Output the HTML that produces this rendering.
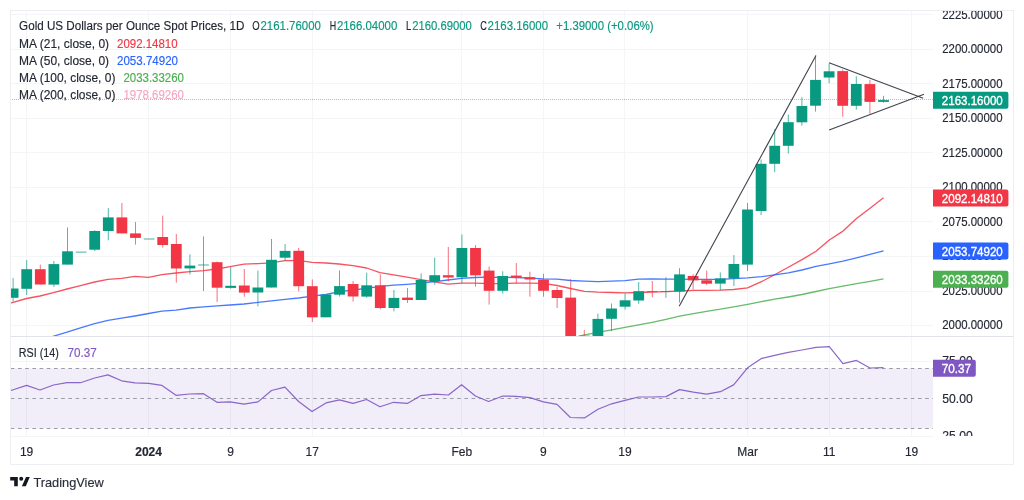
<!DOCTYPE html><html><head><meta charset="utf-8"><title>Gold chart</title><style>html,body{margin:0;padding:0;background:#fff;width:1024px;height:500px;overflow:hidden}svg{display:block}text{font-family:'Liberation Sans', Arial, sans-serif}</style></head><body>
<svg width="1024" height="500" viewBox="0 0 1024 500" style="will-change:transform">
<rect width="1024" height="500" fill="#fff"/>
<defs><clipPath id="mp"><rect x="10" y="10" width="923" height="326"/></clipPath><clipPath id="rp"><rect x="10" y="337" width="923" height="99"/></clipPath><clipPath id="pax"><rect x="933" y="11" width="80" height="325"/></clipPath><clipPath id="rax"><rect x="933" y="337" width="80" height="99"/></clipPath></defs>
<path d="M10 325.5H933 M10 291.5H933 M10 256.5H933 M10 221.5H933 M10 187.5H933 M10 152.5H933 M10 118.5H933 M10 83.5H933 M10 49.5H933 M10 14.5H933 M26.5 10V436 M148.5 10V436 M230.5 10V436 M312.5 10V436 M461.5 10V436 M543.5 10V436 M624.5 10V436 M747.5 10V436 M829.5 10V436 M911.5 10V436 M10 361.5H933 M10 436.5H933" stroke="#f4f5f6" stroke-width="1" fill="none"/>
<rect x="10" y="368.5" width="923" height="60" fill="#7e57c2" fill-opacity="0.1"/>
<path d="M10 368.5H933" stroke="#9a9da5" stroke-width="1" stroke-dasharray="3.6 3.6" stroke-dashoffset="-0.8" fill="none"/>
<path d="M10 398.5H933" stroke="#9a9da5" stroke-width="1" stroke-dasharray="3.6 3.6" stroke-dashoffset="-0.8" fill="none"/>
<path d="M10 428.5H933" stroke="#9a9da5" stroke-width="1" stroke-dasharray="3.6 3.6" stroke-dashoffset="-0.8" fill="none"/>
<g clip-path="url(#mp)">
<polyline points="10.0,303.2 13.1,302.3 26.6,298.5 40.0,296.0 53.5,292.7 67.0,289.0 80.5,285.7 94.6,282.0 108.0,279.4 121.6,278.3 135.0,276.3 148.6,277.3 162.0,274.7 176.0,273.0 190.0,271.6 203.6,270.7 217.0,269.0 230.0,266.7 244.0,264.2 258.0,263.6 271.0,262.8 285.0,260.6 298.0,260.3 312.0,262.3 326.0,263.0 339.0,264.0 353.0,265.6 366.6,268.0 380.0,272.7 393.6,274.8 407.0,277.2 421.0,279.6 434.6,281.9 448.0,284.2 461.6,283.1 475.0,283.1 489.0,283.7 503.0,283.7 516.0,283.1 530.0,283.1 543.0,283.4 557.0,285.5 570.5,288.5 584.4,291.4 598.0,292.2 611.6,292.5 625.0,292.8 638.6,292.5 652.0,292.0 666.0,291.7 679.5,291.0 693.4,290.4 706.6,290.3 720.4,290.2 733.6,289.5 747.6,287.8 761.4,281.7 774.6,274.7 788.3,267.2 802.0,259.6 816.0,251.3 829.3,240.0 843.0,231.1 856.5,218.6 870.0,208.3 883.5,197.8" fill="none" stroke="#f23645" stroke-width="1.3" stroke-linejoin="round" opacity="0.85"/>
<polyline points="52.2,336.6 67.0,332.2 80.5,327.8 94.6,323.7 108.0,320.3 121.6,318.2 135.0,316.0 148.6,313.5 162.0,311.2 176.0,310.2 190.0,308.0 203.6,306.9 217.0,305.8 230.0,305.0 244.0,304.0 258.0,302.3 271.5,300.8 285.0,299.3 298.6,298.0 312.0,296.2 326.0,294.5 339.5,291.6 353.0,290.0 366.6,288.3 380.0,286.4 393.6,285.2 407.0,284.3 421.0,283.1 434.6,281.6 448.0,280.0 461.6,278.4 475.0,277.5 489.0,277.2 502.8,277.3 516.0,277.5 530.0,278.1 543.0,278.8 557.0,279.2 570.4,280.5 584.4,281.2 598.0,281.6 611.6,281.2 625.0,280.6 638.6,279.2 652.0,279.0 666.0,279.1 679.5,279.2 693.4,279.3 706.6,279.3 720.4,279.4 733.6,278.6 747.6,277.8 761.4,276.7 774.6,274.8 788.3,272.9 802.0,270.0 816.0,266.3 829.3,263.8 843.0,261.1 856.5,257.8 870.0,254.4 883.5,250.8" fill="none" stroke="#2962ff" stroke-width="1.3" stroke-linejoin="round" opacity="0.85"/>
<polyline points="576.4,337.0 584.4,334.8 598.0,332.4 611.6,329.8 625.0,327.3 638.6,324.8 652.0,322.4 666.0,319.4 679.5,316.2 693.4,313.6 706.6,311.3 720.4,309.2 733.6,306.8 747.6,304.3 761.4,301.6 774.6,299.2 788.3,297.0 802.0,294.5 816.0,291.5 829.3,288.7 843.0,286.2 856.5,283.7 870.0,281.3 883.5,278.9" fill="none" stroke="#4caf50" stroke-width="1.3" stroke-linejoin="round" opacity="0.85"/>
<rect x="12.60" y="278.1" width="1" height="23.5" fill="#089981" opacity="0.7"/>
<rect x="7.70" y="288.5" width="10.8" height="9.3" fill="#089981"/>
<rect x="26.20" y="260.0" width="1" height="35.0" fill="#089981" opacity="0.7"/>
<rect x="21.30" y="269.2" width="10.8" height="19.6" fill="#089981"/>
<rect x="39.80" y="264.6" width="1" height="19.9" fill="#f23645" opacity="0.7"/>
<rect x="34.90" y="269.2" width="10.8" height="15.3" fill="#f23645"/>
<rect x="53.40" y="261.0" width="1" height="26.0" fill="#089981" opacity="0.7"/>
<rect x="48.50" y="264.1" width="10.8" height="20.5" fill="#089981"/>
<rect x="67.00" y="227.5" width="1" height="37.1" fill="#089981" opacity="0.7"/>
<rect x="62.10" y="251.3" width="10.8" height="13.3" fill="#089981"/>
<rect x="75.70" y="251.6" width="10.8" height="1" fill="#089981" opacity="0.75"/>
<rect x="94.20" y="230.2" width="1" height="20.8" fill="#089981" opacity="0.7"/>
<rect x="89.30" y="231.0" width="10.8" height="18.7" fill="#089981"/>
<rect x="107.80" y="208.1" width="1" height="32.2" fill="#089981" opacity="0.7"/>
<rect x="102.90" y="217.4" width="10.8" height="13.6" fill="#089981"/>
<rect x="121.40" y="203.0" width="1" height="30.4" fill="#f23645" opacity="0.7"/>
<rect x="116.50" y="217.4" width="10.8" height="16.0" fill="#f23645"/>
<rect x="135.00" y="221.9" width="1" height="22.7" fill="#f23645" opacity="0.7"/>
<rect x="130.10" y="233.4" width="10.8" height="4.5" fill="#f23645"/>
<rect x="143.70" y="238.5" width="10.8" height="1" fill="#089981" opacity="0.75"/>
<rect x="162.20" y="215.6" width="1" height="32.0" fill="#f23645" opacity="0.7"/>
<rect x="157.30" y="237.0" width="10.8" height="8.0" fill="#f23645"/>
<rect x="175.80" y="234.0" width="1" height="48.7" fill="#f23645" opacity="0.7"/>
<rect x="170.90" y="244.0" width="10.8" height="24.5" fill="#f23645"/>
<rect x="189.40" y="254.4" width="1" height="20.0" fill="#089981" opacity="0.7"/>
<rect x="184.50" y="265.6" width="10.8" height="2.8" fill="#089981"/>
<rect x="203.00" y="236.4" width="1" height="54.6" fill="#089981" opacity="0.7"/>
<rect x="198.10" y="264.5" width="10.8" height="1" fill="#089981" opacity="0.75"/>
<rect x="216.60" y="261.5" width="1" height="40.4" fill="#f23645" opacity="0.7"/>
<rect x="211.70" y="262.2" width="10.8" height="25.5" fill="#f23645"/>
<rect x="230.20" y="267.1" width="1" height="21.6" fill="#089981" opacity="0.7"/>
<rect x="225.30" y="285.8" width="10.8" height="2.1" fill="#089981"/>
<rect x="243.80" y="269.0" width="1" height="27.7" fill="#f23645" opacity="0.7"/>
<rect x="238.90" y="285.5" width="10.8" height="7.1" fill="#f23645"/>
<rect x="257.40" y="270.6" width="1" height="35.7" fill="#089981" opacity="0.7"/>
<rect x="252.50" y="287.5" width="10.8" height="5.0" fill="#089981"/>
<rect x="271.00" y="239.0" width="1" height="48.5" fill="#089981" opacity="0.7"/>
<rect x="266.10" y="259.8" width="10.8" height="27.7" fill="#089981"/>
<rect x="284.60" y="244.0" width="1" height="17.0" fill="#089981" opacity="0.7"/>
<rect x="279.70" y="250.9" width="10.8" height="6.8" fill="#089981"/>
<rect x="298.20" y="248.0" width="1" height="43.4" fill="#f23645" opacity="0.7"/>
<rect x="293.30" y="250.8" width="10.8" height="35.4" fill="#f23645"/>
<rect x="311.80" y="279.4" width="1" height="42.6" fill="#f23645" opacity="0.7"/>
<rect x="306.90" y="286.2" width="10.8" height="31.1" fill="#f23645"/>
<rect x="325.40" y="294.5" width="1" height="22.8" fill="#089981" opacity="0.7"/>
<rect x="320.50" y="294.5" width="10.8" height="22.8" fill="#089981"/>
<rect x="339.00" y="270.5" width="1" height="26.0" fill="#089981" opacity="0.7"/>
<rect x="334.10" y="286.1" width="10.8" height="8.6" fill="#089981"/>
<rect x="352.60" y="281.0" width="1" height="20.6" fill="#f23645" opacity="0.7"/>
<rect x="347.70" y="284.0" width="10.8" height="12.5" fill="#f23645"/>
<rect x="366.20" y="272.6" width="1" height="25.2" fill="#089981" opacity="0.7"/>
<rect x="361.30" y="285.3" width="10.8" height="11.3" fill="#089981"/>
<rect x="379.80" y="274.3" width="1" height="35.0" fill="#f23645" opacity="0.7"/>
<rect x="374.90" y="285.3" width="10.8" height="22.7" fill="#f23645"/>
<rect x="393.40" y="290.0" width="1" height="21.3" fill="#089981" opacity="0.7"/>
<rect x="388.50" y="297.9" width="10.8" height="10.1" fill="#089981"/>
<rect x="407.00" y="288.0" width="1" height="15.0" fill="#f23645" opacity="0.7"/>
<rect x="402.10" y="297.6" width="10.8" height="2.4" fill="#f23645"/>
<rect x="420.60" y="273.3" width="1" height="26.7" fill="#089981" opacity="0.7"/>
<rect x="415.70" y="280.0" width="10.8" height="20.0" fill="#089981"/>
<rect x="434.20" y="257.6" width="1" height="27.1" fill="#089981" opacity="0.7"/>
<rect x="429.30" y="275.2" width="10.8" height="5.9" fill="#089981"/>
<rect x="447.80" y="247.0" width="1" height="34.6" fill="#f23645" opacity="0.7"/>
<rect x="442.90" y="275.2" width="10.8" height="2.3" fill="#f23645"/>
<rect x="461.40" y="234.4" width="1" height="48.7" fill="#089981" opacity="0.7"/>
<rect x="456.50" y="248.0" width="10.8" height="29.3" fill="#089981"/>
<rect x="475.00" y="245.0" width="1" height="41.6" fill="#f23645" opacity="0.7"/>
<rect x="470.10" y="248.0" width="10.8" height="27.3" fill="#f23645"/>
<rect x="488.60" y="266.6" width="1" height="38.0" fill="#f23645" opacity="0.7"/>
<rect x="483.70" y="270.6" width="10.8" height="20.2" fill="#f23645"/>
<rect x="502.20" y="271.3" width="1" height="22.3" fill="#089981" opacity="0.7"/>
<rect x="497.30" y="276.0" width="10.8" height="14.8" fill="#089981"/>
<rect x="515.80" y="263.1" width="1" height="20.0" fill="#f23645" opacity="0.7"/>
<rect x="510.90" y="275.6" width="10.8" height="1.9" fill="#f23645"/>
<rect x="529.40" y="271.7" width="1" height="25.0" fill="#f23645" opacity="0.7"/>
<rect x="524.50" y="277.2" width="10.8" height="2.3" fill="#f23645"/>
<rect x="543.00" y="273.8" width="1" height="22.9" fill="#f23645" opacity="0.7"/>
<rect x="538.10" y="279.5" width="10.8" height="11.3" fill="#f23645"/>
<rect x="556.60" y="287.0" width="1" height="21.0" fill="#f23645" opacity="0.7"/>
<rect x="551.70" y="290.0" width="10.8" height="8.0" fill="#f23645"/>
<rect x="570.20" y="279.0" width="1" height="66.0" fill="#f23645" opacity="0.7"/>
<rect x="565.30" y="297.6" width="10.8" height="47.4" fill="#f23645"/>
<rect x="583.80" y="330.0" width="1" height="15.0" fill="#f23645" opacity="0.7"/>
<rect x="578.90" y="335.6" width="10.8" height="9.4" fill="#f23645"/>
<rect x="597.40" y="313.6" width="1" height="31.4" fill="#089981" opacity="0.7"/>
<rect x="592.50" y="318.9" width="10.8" height="26.1" fill="#089981"/>
<rect x="611.00" y="303.5" width="1" height="27.7" fill="#089981" opacity="0.7"/>
<rect x="606.10" y="308.5" width="10.8" height="10.3" fill="#089981"/>
<rect x="624.60" y="293.3" width="1" height="16.3" fill="#089981" opacity="0.7"/>
<rect x="619.70" y="300.3" width="10.8" height="6.4" fill="#089981"/>
<rect x="638.20" y="282.0" width="1" height="21.8" fill="#089981" opacity="0.7"/>
<rect x="633.30" y="291.2" width="10.8" height="9.3" fill="#089981"/>
<rect x="651.80" y="281.0" width="1" height="16.3" fill="#f23645" opacity="0.7"/>
<rect x="646.90" y="291.0" width="10.8" height="1" fill="#f23645" opacity="0.75"/>
<rect x="665.40" y="277.2" width="1" height="20.6" fill="#089981" opacity="0.7"/>
<rect x="660.50" y="291.0" width="10.8" height="1" fill="#089981" opacity="0.75"/>
<rect x="679.00" y="268.2" width="1" height="34.4" fill="#089981" opacity="0.7"/>
<rect x="674.10" y="274.4" width="10.8" height="17.1" fill="#089981"/>
<rect x="692.60" y="274.1" width="1" height="15.4" fill="#f23645" opacity="0.7"/>
<rect x="687.70" y="276.0" width="10.8" height="4.4" fill="#f23645"/>
<rect x="706.20" y="270.6" width="1" height="14.5" fill="#f23645" opacity="0.7"/>
<rect x="701.30" y="280.3" width="10.8" height="3.4" fill="#f23645"/>
<rect x="719.80" y="272.4" width="1" height="18.0" fill="#089981" opacity="0.7"/>
<rect x="714.90" y="278.4" width="10.8" height="5.2" fill="#089981"/>
<rect x="733.40" y="255.0" width="1" height="31.0" fill="#089981" opacity="0.7"/>
<rect x="728.50" y="264.0" width="10.8" height="14.4" fill="#089981"/>
<rect x="747.00" y="203.0" width="1" height="68.0" fill="#089981" opacity="0.7"/>
<rect x="742.10" y="209.5" width="10.8" height="55.1" fill="#089981"/>
<rect x="760.60" y="159.5" width="1" height="55.5" fill="#089981" opacity="0.7"/>
<rect x="755.70" y="163.8" width="10.8" height="47.2" fill="#089981"/>
<rect x="774.20" y="129.3" width="1" height="42.9" fill="#089981" opacity="0.7"/>
<rect x="769.30" y="145.8" width="10.8" height="18.0" fill="#089981"/>
<rect x="787.80" y="114.5" width="1" height="39.0" fill="#089981" opacity="0.7"/>
<rect x="782.90" y="122.2" width="10.8" height="23.6" fill="#089981"/>
<rect x="801.40" y="97.2" width="1" height="28.5" fill="#089981" opacity="0.7"/>
<rect x="796.50" y="106.0" width="10.8" height="16.3" fill="#089981"/>
<rect x="815.00" y="55.6" width="1" height="56.0" fill="#089981" opacity="0.7"/>
<rect x="810.10" y="79.9" width="10.8" height="25.8" fill="#089981"/>
<rect x="828.60" y="63.3" width="1" height="20.1" fill="#089981" opacity="0.7"/>
<rect x="823.70" y="71.3" width="10.8" height="6.2" fill="#089981"/>
<rect x="842.20" y="69.6" width="1" height="47.1" fill="#f23645" opacity="0.7"/>
<rect x="837.30" y="71.1" width="10.8" height="34.7" fill="#f23645"/>
<rect x="855.80" y="76.3" width="1" height="33.3" fill="#089981" opacity="0.7"/>
<rect x="850.90" y="84.0" width="10.8" height="21.8" fill="#089981"/>
<rect x="869.40" y="79.8" width="1" height="34.1" fill="#f23645" opacity="0.7"/>
<rect x="864.50" y="84.1" width="10.8" height="17.8" fill="#f23645"/>
<rect x="883.00" y="95.8" width="1" height="6.9" fill="#089981" opacity="0.7"/>
<rect x="878.10" y="100.1" width="10.8" height="1.8" fill="#089981"/>
<path d="M10 99.5H933" stroke="#089981" stroke-width="1" stroke-dasharray="1 1" opacity="0.45"/>
<path d="M679.2 306.2L816 55.6M829.1 62.7L923.2 98.2M829.1 129.9L924 94.2" stroke="#40444d" stroke-width="1.1" fill="none"/>
</g>
<g clip-path="url(#rp)">
<polyline points="10.0,390.5 13.1,389.8 26.6,385.4 40.0,390.0 53.5,385.0 67.0,382.7 80.5,382.7 94.6,378.0 108.0,374.9 121.6,380.8 135.0,382.9 148.6,383.3 162.0,385.4 176.0,395.3 189.6,394.0 203.5,393.7 217.0,402.3 230.0,401.9 244.0,404.2 258.0,401.9 271.5,390.5 285.0,387.2 298.6,401.5 312.0,411.6 326.0,402.9 339.5,399.9 353.0,403.4 366.6,399.5 380.0,406.8 393.6,402.3 407.4,403.4 421.0,395.6 434.6,394.1 448.4,395.0 461.6,384.7 475.4,396.0 488.6,401.5 502.8,396.0 516.0,396.4 530.0,397.6 543.4,401.9 557.0,404.4 570.4,417.5 584.4,417.9 598.0,409.3 611.6,403.8 625.0,400.3 638.6,397.0 652.0,397.0 666.0,396.6 679.5,389.6 693.4,392.1 706.6,394.1 720.4,391.7 733.6,384.9 747.6,367.8 761.4,358.4 774.6,355.4 788.3,352.4 802.0,350.0 816.0,347.4 829.3,346.6 843.0,363.6 856.5,360.4 870.0,368.0 883.5,367.6" fill="none" stroke="#7e57c2" stroke-width="1.2" stroke-linejoin="round" opacity="0.9"/>
</g>
<path d="M10 336.5H1014" stroke="#e0e3eb" stroke-width="1" fill="none"/>
<rect x="10.5" y="10.5" width="1003" height="454" fill="none" stroke="#eceef1" stroke-width="1"/>
<text x="19.1" y="30.2" fill="#232733" font-size="12" stroke="#232733" stroke-width="0.15" textLength="225.3" lengthAdjust="spacingAndGlyphs">Gold US Dollars per Ounce Spot Prices, 1D</text>
<text x="252.2" y="30.2" fill="#232733" font-size="12" stroke="#232733" stroke-width="0.15" textLength="7.4" lengthAdjust="spacingAndGlyphs">O</text>
<text x="260.5" y="30.2" fill="#089981" font-size="12" stroke="#089981" stroke-width="0.15" textLength="60.4" lengthAdjust="spacingAndGlyphs">2161.76000</text>
<text x="329.7" y="30.2" fill="#232733" font-size="12" stroke="#232733" stroke-width="0.15" textLength="6.4" lengthAdjust="spacingAndGlyphs">H</text>
<text x="336.9" y="30.2" fill="#089981" font-size="12" stroke="#089981" stroke-width="0.15" textLength="60.4" lengthAdjust="spacingAndGlyphs">2166.04000</text>
<text x="405.9" y="30.2" fill="#232733" font-size="12" stroke="#232733" stroke-width="0.15" textLength="5.2" lengthAdjust="spacingAndGlyphs">L</text>
<text x="412.2" y="30.2" fill="#089981" font-size="12" stroke="#089981" stroke-width="0.15" textLength="59.7" lengthAdjust="spacingAndGlyphs">2160.69000</text>
<text x="480.2" y="30.2" fill="#232733" font-size="12" stroke="#232733" stroke-width="0.15" textLength="6.6" lengthAdjust="spacingAndGlyphs">C</text>
<text x="487.6" y="30.2" fill="#089981" font-size="12" stroke="#089981" stroke-width="0.15" textLength="60.5" lengthAdjust="spacingAndGlyphs">2163.16000</text>
<text x="556.3" y="30.2" fill="#089981" font-size="12" stroke="#089981" stroke-width="0.15" textLength="97.3" lengthAdjust="spacingAndGlyphs">+1.39000 (+0.06%)</text>
<text x="19.1" y="47.5" fill="#232733" font-size="12" stroke="#232733" stroke-width="0.15" textLength="90" lengthAdjust="spacingAndGlyphs">MA (21, close, 0)</text>
<text x="117" y="47.5" fill="#f23645" font-size="12" stroke="#f23645" stroke-width="0.15" textLength="60.6" lengthAdjust="spacingAndGlyphs">2092.14810</text>
<text x="19.1" y="64.9" fill="#232733" font-size="12" stroke="#232733" stroke-width="0.15" textLength="90" lengthAdjust="spacingAndGlyphs">MA (50, close, 0)</text>
<text x="117" y="64.9" fill="#2962ff" font-size="12" stroke="#2962ff" stroke-width="0.15" textLength="61" lengthAdjust="spacingAndGlyphs">2053.74920</text>
<text x="19.1" y="82.2" fill="#232733" font-size="12" stroke="#232733" stroke-width="0.15" textLength="96.3" lengthAdjust="spacingAndGlyphs">MA (100, close, 0)</text>
<text x="123.4" y="82.2" fill="#4caf50" font-size="12" stroke="#4caf50" stroke-width="0.15" textLength="60.6" lengthAdjust="spacingAndGlyphs">2033.33260</text>
<text x="19.1" y="99.3" fill="#232733" font-size="12" stroke="#232733" stroke-width="0.15" textLength="96.3" lengthAdjust="spacingAndGlyphs">MA (200, close, 0)</text>
<text x="123.4" y="99.3" fill="#f5a8c4" font-size="12" stroke="#f5a8c4" stroke-width="0.15" textLength="60.6" lengthAdjust="spacingAndGlyphs">1978.69260</text>
<text x="18.8" y="357.2" fill="#232733" font-size="12" stroke="#232733" stroke-width="0.15" textLength="40" lengthAdjust="spacingAndGlyphs">RSI (14)</text>
<text x="67.6" y="357.2" fill="#7e57c2" font-size="12" stroke="#7e57c2" stroke-width="0.15" textLength="29.2" lengthAdjust="spacingAndGlyphs">70.37</text>
<g clip-path="url(#pax)">
<text x="942.2" y="329.4" fill="#232733" font-size="12" stroke="#232733" stroke-width="0.15" textLength="60.3" lengthAdjust="spacingAndGlyphs">2000.00000</text>
<text x="942.2" y="294.9" fill="#232733" font-size="12" stroke="#232733" stroke-width="0.15" textLength="60.3" lengthAdjust="spacingAndGlyphs">2025.00000</text>
<text x="942.2" y="260.3" fill="#232733" font-size="12" stroke="#232733" stroke-width="0.15" textLength="60.3" lengthAdjust="spacingAndGlyphs">2050.00000</text>
<text x="942.2" y="225.8" fill="#232733" font-size="12" stroke="#232733" stroke-width="0.15" textLength="60.3" lengthAdjust="spacingAndGlyphs">2075.00000</text>
<text x="942.2" y="191.2" fill="#232733" font-size="12" stroke="#232733" stroke-width="0.15" textLength="60.3" lengthAdjust="spacingAndGlyphs">2100.00000</text>
<text x="942.2" y="156.7" fill="#232733" font-size="12" stroke="#232733" stroke-width="0.15" textLength="60.3" lengthAdjust="spacingAndGlyphs">2125.00000</text>
<text x="942.2" y="122.1" fill="#232733" font-size="12" stroke="#232733" stroke-width="0.15" textLength="60.3" lengthAdjust="spacingAndGlyphs">2150.00000</text>
<text x="942.2" y="87.6" fill="#232733" font-size="12" stroke="#232733" stroke-width="0.15" textLength="60.3" lengthAdjust="spacingAndGlyphs">2175.00000</text>
<text x="942.2" y="53.0" fill="#232733" font-size="12" stroke="#232733" stroke-width="0.15" textLength="60.3" lengthAdjust="spacingAndGlyphs">2200.00000</text>
<text x="942.2" y="18.5" fill="#232733" font-size="12" stroke="#232733" stroke-width="0.15" textLength="60.3" lengthAdjust="spacingAndGlyphs">2225.00000</text>
</g>
<g clip-path="url(#rax)">
<text x="942.2" y="365.3" fill="#232733" font-size="12" stroke="#232733" stroke-width="0.15" textLength="30.5" lengthAdjust="spacingAndGlyphs">75.00</text>
<text x="942.2" y="402.8" fill="#232733" font-size="12" stroke="#232733" stroke-width="0.15" textLength="30.5" lengthAdjust="spacingAndGlyphs">50.00</text>
<text x="942.2" y="440.3" fill="#232733" font-size="12" stroke="#232733" stroke-width="0.15" textLength="30.5" lengthAdjust="spacingAndGlyphs">25.00</text>
</g>
<path d="M933 189.6H1006.4Q1008.4 189.6 1008.4 191.6V204.6Q1008.4 206.6 1006.4 206.6H933Z" fill="#f23645"/>
<text x="941.8" y="202.9" fill="#fff" font-size="12" stroke="#fff" stroke-width="0.35" textLength="61" lengthAdjust="spacingAndGlyphs">2092.14810</text>
<path d="M933 242.6H1006.4Q1008.4 242.6 1008.4 244.6V257.6Q1008.4 259.6 1006.4 259.6H933Z" fill="#2962ff"/>
<text x="941.8" y="255.9" fill="#fff" font-size="12" stroke="#fff" stroke-width="0.35" textLength="61" lengthAdjust="spacingAndGlyphs">2053.74920</text>
<path d="M933 270.8H1006.4Q1008.4 270.8 1008.4 272.8V285.8Q1008.4 287.8 1006.4 287.8H933Z" fill="#4caf50"/>
<text x="941.8" y="284.1" fill="#fff" font-size="12" stroke="#fff" stroke-width="0.35" textLength="61" lengthAdjust="spacingAndGlyphs">2033.33260</text>
<path d="M933 91.7H1006.4Q1008.4 91.7 1008.4 93.7V106.7Q1008.4 108.7 1006.4 108.7H933Z" fill="#089981"/>
<text x="941.8" y="105.0" fill="#fff" font-size="12" stroke="#fff" stroke-width="0.35" textLength="61" lengthAdjust="spacingAndGlyphs">2163.16000</text>
<path d="M933 359.7H973.8Q975.8 359.7 975.8 361.7V374.7Q975.8 376.7 973.8 376.7H933Z" fill="#7e57c2"/>
<text x="941.8" y="373.0" fill="#fff" font-size="12" stroke="#fff" stroke-width="0.35" textLength="29.3" lengthAdjust="spacingAndGlyphs">70.37</text>
<text x="26.6" y="455.6" fill="#232733" font-size="12" stroke="#232733" stroke-width="0.15" text-anchor="middle">19</text>
<text x="148.6" y="455.6" fill="#232733" font-size="12" stroke="#232733" stroke-width="0.15" font-weight="bold" text-anchor="middle">2024</text>
<text x="230.5" y="455.6" fill="#232733" font-size="12" stroke="#232733" stroke-width="0.15" text-anchor="middle">9</text>
<text x="312.3" y="455.6" fill="#232733" font-size="12" stroke="#232733" stroke-width="0.15" text-anchor="middle">17</text>
<text x="461.8" y="455.6" fill="#232733" font-size="12" stroke="#232733" stroke-width="0.15" text-anchor="middle">Feb</text>
<text x="543.3" y="455.6" fill="#232733" font-size="12" stroke="#232733" stroke-width="0.15" text-anchor="middle">9</text>
<text x="624.9" y="455.6" fill="#232733" font-size="12" stroke="#232733" stroke-width="0.15" text-anchor="middle">19</text>
<text x="747.6" y="455.6" fill="#232733" font-size="12" stroke="#232733" stroke-width="0.15" text-anchor="middle">Mar</text>
<text x="829.3" y="455.6" fill="#232733" font-size="12" stroke="#232733" stroke-width="0.15" text-anchor="middle">11</text>
<text x="911.6" y="455.6" fill="#232733" font-size="12" stroke="#232733" stroke-width="0.15" text-anchor="middle">19</text>
<path d="M10.2 477H17.8V486.2H14.2V480.6H10.2Z M26 477H29.8L25.8 486.2H21.9Z" fill="#131722"/><circle cx="21.2" cy="478.8" r="2" fill="#131722"/>
<text x="33.4" y="486.8" fill="#2a2e39" font-size="13" stroke="#2a2e39" stroke-width="0.15" textLength="70.4" lengthAdjust="spacingAndGlyphs">TradingView</text>
</svg></body></html>
